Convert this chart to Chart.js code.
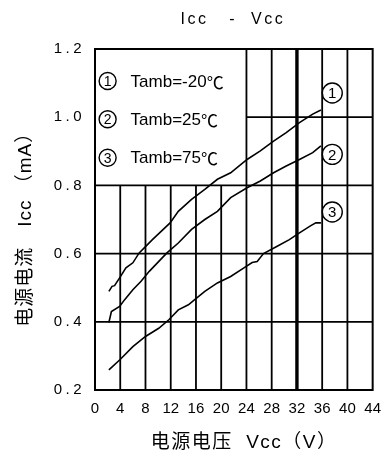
<!DOCTYPE html>
<html>
<head>
<meta charset="utf-8">
<script src="https://cdn.jsdelivr.net/npm/chart.js@4/dist/chart.umd.min.js"></script>
<style>
  html, body { margin: 0; padding: 0; background: #fff; }
  canvas { display: block; }
</style>
</head>
<body>
<canvas id="c" width="391" height="457"></canvas>
<script>
// Supply current vs. supply voltage at three ambient temperatures
const chartTitle = 'Icc   -  Vcc';
const xAxisTitle = '　电源电压  Vcc（V）';
const yAxisTitle = '电源电流　Icc （mA）　';
const seriesMarks = ['1', '2', '3'];
const seriesLabels = ['Tamb=-20℃', 'Tamb=25℃', 'Tamb=75℃'];

const xTicks = [0, 4, 8, 12, 16, 20, 24, 28, 32, 36, 40, 44];
const yTicks = [0.2, 0.4, 0.6, 0.8, 1.0, 1.2];

// Tamb = -20 °C
const vccCold = [2.2, 2.7, 3.1, 3.9, 4.9, 6.0, 7.0, 9.1, 11.9, 13.2, 15.3, 17.4, 19.4, 21.5, 24.1, 26.2, 28.3, 30.3, 32.4, 34.5, 35.8];
const iccCold = [0.489, 0.504, 0.506, 0.529, 0.558, 0.573, 0.602, 0.641, 0.690, 0.724, 0.759, 0.788, 0.818, 0.837, 0.876, 0.901, 0.930, 0.955, 0.984, 1.009, 1.021];

// Tamb = 25 °C
const vccRoom = [2.2, 2.6, 3.9, 4.7, 6.0, 7.3, 8.6, 11.4, 13.2, 15.3, 17.4, 19.4, 21.5, 24.1, 26.2, 28.3, 30.3, 32.4, 34.5, 35.8];
const iccRoom = [0.398, 0.430, 0.445, 0.465, 0.494, 0.519, 0.548, 0.602, 0.631, 0.671, 0.700, 0.724, 0.764, 0.793, 0.813, 0.837, 0.857, 0.876, 0.896, 0.916];

// Tamb = 75 °C
const vccHot = [2.2, 3.9, 6.0, 8.0, 10.1, 11.7, 13.2, 14.8, 15.8, 17.4, 19.4, 21.5, 23.6, 24.9, 25.7, 26.7, 28.8, 30.8, 32.4, 34.2, 35.0, 35.8];
const iccHot = [0.259, 0.288, 0.327, 0.357, 0.381, 0.406, 0.435, 0.450, 0.465, 0.489, 0.514, 0.533, 0.558, 0.574, 0.577, 0.600, 0.621, 0.641, 0.661, 0.682, 0.690, 0.690];

// Where the circled curve numbers sit (axis units)
const markX = [37.6, 37.6, 37.6];
const markY = [1.071, 0.891, 0.722];
// Key rows (axis units)
const keyX = 2.0;
const keyY = [1.106, 0.994, 0.881];

const FONT = "'Liberation Sans', Arial, sans-serif";
const CJK = "'Noto Sans CJK SC', sans-serif";
const AXIS_FONT = "'Liberation Sans', 'Noto Sans CJK SC', sans-serif";
const INK = '#000';

const toPoints = (xs, ys) => xs.map((v, i) => ({ x: v, y: ys[i] }));

function circledDigit(ctx, cx, cy, r, digit, size) {
  ctx.beginPath();
  ctx.arc(cx, cy, r, 0, Math.PI * 2);
  ctx.lineWidth = 1.4;
  ctx.strokeStyle = INK;
  ctx.stroke();
  ctx.fillStyle = INK;
  ctx.font = size + 'px ' + FONT;
  ctx.textAlign = 'center';
  ctx.textBaseline = 'middle';
  ctx.fillText(digit, cx, cy + 1);
}

// Latin part in the sans face, the degree-Celsius sign in the CJK face
function keyText(ctx, text, x, y, size) {
  ctx.textAlign = 'left';
  ctx.textBaseline = 'middle';
  const head = text.endsWith('℃') ? text.slice(0, -1) : text;
  ctx.font = size + 'px ' + FONT;
  ctx.fillText(head, x, y);
  if (head !== text) {
    const w = ctx.measureText(head).width;
    ctx.font = size + 'px ' + CJK;
    ctx.fillText('℃', x + w, y);
  }
}

// Grid drawn as on the data sheet: the upper-left block is left open for the key
const sheetGrid = {
  id: 'sheetGrid',
  beforeDatasetsDraw(chart) {
    const { ctx, chartArea: a, scales: { x, y } } = chart;
    const keyRight = x.getPixelForValue(24);
    const keyBottom = y.getPixelForValue(0.8);
    ctx.save();
    ctx.strokeStyle = INK;
    const seg = (x0, y0, x1, y1, w) => {
      ctx.lineWidth = w;
      ctx.beginPath();
      ctx.moveTo(x0, y0);
      ctx.lineTo(x1, y1);
      ctx.stroke();
    };
    yTicks.slice(1, -1).forEach(v => {
      const py = y.getPixelForValue(v);
      seg(v > 0.8 ? keyRight : a.left, py, a.right, py, 1.8);
    });
    xTicks.slice(1, -1).forEach(v => {
      const px = x.getPixelForValue(v);
      seg(px, a.bottom, px, v < 24 ? keyBottom : a.top, v === 32 ? 3.4 : 1.8);
    });
    ctx.lineWidth = 2;
    ctx.strokeRect(a.left, a.top, a.right - a.left, a.bottom - a.top);
    ctx.restore();
  },
  afterDatasetsDraw(chart) {
    const { ctx, chartArea: a, scales: { x, y } } = chart;
    ctx.save();
    // circled numbers at the curve ends
    seriesMarks.forEach((m, i) => {
      circledDigit(ctx, x.getPixelForValue(markX[i]), y.getPixelForValue(markY[i]), 10, m, 15);
    });
    // key
    seriesLabels.forEach((t, i) => {
      const cy = y.getPixelForValue(keyY[i]);
      const cx = x.getPixelForValue(keyX);
      circledDigit(ctx, cx, cy, 8.5, seriesMarks[i], 14);
      ctx.fillStyle = INK;
      keyText(ctx, t, cx + 23, cy + 1, 17);
    });
    // chart title over the plot
    ctx.font = '16px ' + FONT;
    ctx.letterSpacing = '2.5px';
    ctx.textAlign = 'center';
    ctx.textBaseline = 'middle';
    ctx.fillText(chartTitle, (a.left + a.right) / 2 - 1, 20);
    ctx.restore();
  }
};

// Wider letter spacing for axis labels
const spacing = { x: { labels: '0px', title: '1.5px' }, y: { labels: '3.5px', title: '1px' } };
const spacedText = {
  id: 'spacedText',
  beforeDraw(chart) {
    Object.keys(spacing).forEach(id => {
      const s = chart.scales[id];
      if (!s || s._spaced) return;
      s._spaced = true;
      const wrap = (name, ls) => {
        const orig = s[name];
        s[name] = function (...args) {
          const c = this.ctx;
          const prev = c.letterSpacing;
          c.letterSpacing = ls;
          orig.apply(this, args);
          c.letterSpacing = prev;
        };
      };
      wrap('drawLabels', spacing[id].labels);
      wrap('drawTitle', spacing[id].title);
    });
  }
};

new Chart(document.getElementById('c'), {
  type: 'line',
  data: {
    datasets: [
      { label: seriesLabels[0], data: toPoints(vccCold, iccCold) },
      { label: seriesLabels[1], data: toPoints(vccRoom, iccRoom) },
      { label: seriesLabels[2], data: toPoints(vccHot, iccHot) }
    ]
  },
  options: {
    responsive: false,
    animation: false,
    devicePixelRatio: 1,
    layout: { padding: { top: 49, right: 13, left: 0, bottom: 0 } },
    elements: {
      line: { borderColor: INK, borderWidth: 1.6, tension: 0, fill: false },
      point: { radius: 0, hoverRadius: 0 }
    },
    plugins: { legend: { display: false }, tooltip: { enabled: false }, title: { display: false } },
    scales: {
      x: {
        type: 'linear',
        min: 0, max: 44,
        afterBuildTicks: s => { s.ticks = xTicks.map(v => ({ value: v })); },
        afterFit: s => { s.height = 67; },
        grid: { display: false, drawTicks: false },
        border: { display: false },
        ticks: { color: INK, font: { family: FONT, size: 15 }, padding: 10, maxRotation: 0, autoSkip: false },
        title: {
          display: true, text: xAxisTitle, color: INK,
          font: { family: AXIS_FONT, size: 19, lineHeight: 1.2 },
          padding: { top: 0, bottom: 3 }
        }
      },
      y: {
        type: 'linear',
        min: 0.2, max: 1.2,
        afterBuildTicks: s => { s.ticks = yTicks.map(v => ({ value: v })); },
        afterFit: s => { s.width = 95; },
        grid: { display: false, drawTicks: false },
        border: { display: false },
        ticks: { color: INK, font: { family: FONT, size: 15 }, padding: 10, autoSkip: false, callback: v => v.toFixed(1) },
        title: {
          display: true, text: yAxisTitle, color: INK,
          font: { family: AXIS_FONT, size: 19, lineHeight: 1.2 },
          padding: { top: 14, bottom: 0 }
        }
      }
    }
  },
  plugins: [sheetGrid, spacedText]
});
</script>
</body>
</html>
